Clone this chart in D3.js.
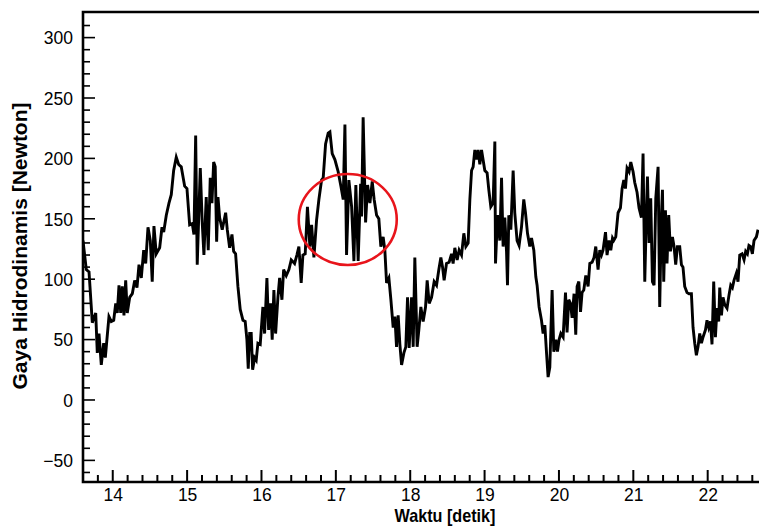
<!DOCTYPE html>
<html lang="id">
<head>
<meta charset="utf-8">
<title>Gaya Hidrodinamis terhadap Waktu</title>
<script src="https://cdn.jsdelivr.net/npm/d3@7"></script>
<style>
body { margin: 0; background: #fff; }
svg { display: block; font-family: "Liberation Sans", Arial, sans-serif; }
</style>
</head>
<body>
<div id="vis"></div>
<script>

/* Data */
/* ======================== */

var waktu = [
  13.600, 13.644, 13.681, 13.725, 13.771, 13.792, 13.815, 13.846, 13.878, 13.900,
  13.949, 13.980, 14.013, 14.040, 14.061, 14.084, 14.107, 14.128, 14.151, 14.174,
  14.195, 14.228, 14.263, 14.295, 14.326, 14.353, 14.384, 14.416, 14.443, 14.474,
  14.505, 14.531, 14.554, 14.585, 14.631, 14.662, 14.685, 14.720, 14.756, 14.787,
  14.819, 14.854, 14.886, 14.921, 14.967, 14.998, 15.034, 15.069, 15.092, 15.115,
  15.136, 15.177, 15.204, 15.226, 15.257, 15.284, 15.311, 15.334, 15.357, 15.378,
  15.397, 15.415, 15.437, 15.472, 15.518, 15.540, 15.572, 15.603, 15.626, 15.652,
  15.683, 15.714, 15.751, 15.781, 15.804, 15.822, 15.841, 15.862, 15.881, 15.908,
  15.929, 15.952, 15.983, 16.019, 16.042, 16.073, 16.096, 16.123, 16.144, 16.167,
  16.190, 16.221, 16.244, 16.275, 16.298, 16.333, 16.369, 16.400, 16.445, 16.476,
  16.503, 16.534, 16.557, 16.588, 16.618, 16.651, 16.674, 16.705, 16.741, 16.772,
  16.808, 16.830, 16.862, 16.897, 16.920, 16.951, 16.987, 17.031, 17.068, 17.099,
  17.122, 17.144, 17.175, 17.212, 17.243, 17.269, 17.300, 17.333, 17.346, 17.367,
  17.400, 17.427, 17.458, 17.489, 17.515, 17.548, 17.578, 17.605, 17.636, 17.659,
  17.682, 17.713, 17.740, 17.771, 17.794, 17.816, 17.838, 17.861, 17.884, 17.915,
  17.941, 17.964, 17.986, 18.018, 18.040, 18.062, 18.093, 18.116, 18.143, 18.174,
  18.206, 18.228, 18.255, 18.287, 18.322, 18.354, 18.385, 18.412, 18.435, 18.456,
  18.488, 18.523, 18.556, 18.577, 18.600, 18.631, 18.658, 18.690, 18.721, 18.748,
  18.779, 18.802, 18.825, 18.846, 18.869, 18.892, 18.913, 18.936, 18.959, 19.003,
  19.034, 19.057, 19.084, 19.115, 19.138, 19.147, 19.174, 19.205, 19.228, 19.249,
  19.272, 19.295, 19.308, 19.326, 19.353, 19.384, 19.406, 19.437, 19.464, 19.496,
  19.527, 19.550, 19.577, 19.608, 19.631, 19.662, 19.689, 19.706, 19.733, 19.765,
  19.787, 19.810, 19.833, 19.854, 19.877, 19.908, 19.931, 19.958, 19.980, 20.002,
  20.025, 20.056, 20.088, 20.109, 20.132, 20.155, 20.177, 20.203, 20.226, 20.244,
  20.267, 20.290, 20.311, 20.334, 20.361, 20.392, 20.415, 20.446, 20.472, 20.495,
  20.526, 20.549, 20.572, 20.593, 20.626, 20.647, 20.674, 20.697, 20.720, 20.737,
  20.764, 20.795, 20.827, 20.849, 20.872, 20.894, 20.916, 20.943, 20.966, 20.997,
  21.019, 21.050, 21.077, 21.109, 21.131, 21.154, 21.177, 21.190, 21.212, 21.234,
  21.257, 21.279, 21.302, 21.333, 21.355, 21.378, 21.392, 21.409, 21.432, 21.453,
  21.476, 21.499, 21.526, 21.548, 21.570, 21.593, 21.624, 21.647, 21.668, 21.691,
  21.722, 21.749, 21.781, 21.803, 21.826, 21.848, 21.870, 21.893, 21.916, 21.937,
  21.970, 21.991, 22.014, 22.037, 22.058, 22.081, 22.104, 22.125, 22.148, 22.162,
  22.185, 22.206, 22.229, 22.260, 22.287, 22.310, 22.332, 22.354, 22.386, 22.408,
  22.431, 22.462, 22.489, 22.511, 22.534, 22.555, 22.578, 22.601, 22.623, 22.655,
  22.677
];

var gaya = [
  132, 108, 106, 64, 72, 39, 55, 29, 47, 35,
  69, 65, 66, 80, 72, 95, 72, 94, 70, 99,
  72, 85, 88, 99, 93, 112, 101, 124, 113, 143,
  132, 98, 144, 121, 126, 143, 139, 153, 163, 170,
  190, 201, 195, 193, 177, 175, 145, 146, 137, 219,
  112, 192, 146, 120, 168, 124, 184, 163, 197, 193,
  131, 168, 151, 141, 155, 141, 126, 137, 123, 121,
  94, 75, 66, 65, 50, 26, 55, 55, 25, 35,
  33, 47, 46, 77, 55, 101, 58, 80, 50, 91,
  55, 85, 101, 83, 108, 103, 108, 116, 113, 120,
  127, 97, 120, 121, 160, 127, 145, 118, 149, 166,
  182, 184, 212, 221, 222, 204, 199, 189, 177, 166,
  228, 120, 182, 160, 115, 178, 115, 179, 152, 234,
  147, 178, 163, 181, 166, 153, 150, 127, 135, 124,
  97, 101, 83, 60, 69, 44, 70, 46, 29, 39,
  44, 85, 43, 85, 44, 118, 44, 58, 77, 65,
  77, 99, 80, 85, 98, 95, 108, 118, 110, 99,
  113, 114, 121, 113, 126, 116, 124, 120, 138, 127,
  130, 166, 190, 193, 207, 199, 207, 195, 207, 190,
  188, 174, 160, 163, 214, 113, 153, 132, 184, 127,
  151, 123, 95, 153, 141, 190, 155, 132, 128, 143,
  166, 155, 138, 127, 134, 124, 102, 95, 77, 66,
  55, 62, 39, 19, 27, 91, 40, 50, 40, 50,
  55, 52, 89, 56, 83, 80, 68, 88, 54, 94,
  98, 73, 89, 91, 103, 94, 113, 114, 118, 127,
  108, 124, 120, 124, 139, 120, 132, 124, 134, 132,
  135, 155, 159, 175, 182, 175, 192, 189, 197, 189,
  180, 172, 159, 151, 204, 98, 157, 185, 130, 167,
  98, 95, 167, 193, 77, 153, 174, 98, 157, 113,
  153, 123, 135, 127, 112, 127, 127, 112, 110, 94,
  89, 88, 88, 60, 47, 37, 44, 55, 47, 52,
  58, 66, 60, 65, 46, 98, 52, 76, 65, 93,
  70, 85, 79, 76, 87, 95, 93, 99, 105, 98,
  120, 121, 116, 123, 121, 128, 127, 121, 132, 135,
  141
];

var xMajor = [14, 15, 16, 17, 18, 19, 20, 21, 22];
var yMajor = [-50, 0, 50, 100, 150, 200, 250, 300];
var xDomain = [13.6, 22.69];
var yDomain = [-67.9, 321.2];

// marked region (red ellipse): centre in data units
var sorotan = { t: 17.16, f: 149.4 };

var data = waktu.map(function(t, i) { return { t: t, f: gaya[i] }; });


/* SVG */
/* === */

var W = 759, H = 527;
var plot = { left: 83, right: 759, top: 12, bottom: 482 };

var svg = d3.select('#vis')
  .append('svg')
    .attr('width', W)
    .attr('height', H);

var x = d3.scaleLinear().domain(xDomain).range([plot.left, plot.right]);
var y = d3.scaleLinear().domain(yDomain).range([plot.bottom, plot.top]);

// minor ticks
var xMinor = d3.range(13.8, 22.65, 0.2).filter(function(v) {
  return Math.abs(v - Math.round(v)) > 0.01;
});
var yMinor = d3.range(-60, 311, 10).filter(function(v) { return v % 50 !== 0; });


/* Data line */
/* ========= */

svg.append('clipPath').attr('id', 'clip')
  .append('rect')
    .attr('x', plot.left).attr('y', plot.top)
    .attr('width', plot.right - plot.left).attr('height', plot.bottom - plot.top);

var line = d3.line()
  .x(function(d) { return x(d.t); })
  .y(function(d) { return y(d.f); });

svg.append('path')
  .datum(data)
  .attr('clip-path', 'url(#clip)')
  .attr('d', line)
  .attr('fill', 'none')
  .attr('stroke', '#000')
  .attr('stroke-width', 2.9);

svg.append('ellipse')
  .attr('cx', x(sorotan.t))
  .attr('cy', y(sorotan.f))
  .attr('rx', 49)
  .attr('ry', 45.5)
  .attr('fill', 'none')
  .attr('stroke', '#e8141b')
  .attr('stroke-width', 2.6);


/* Axes */
/* ==== */

var xAxis = d3.axisBottom(x).tickValues(xMajor).tickSize(0).tickPadding(0)
  .tickFormat(d3.format('d'));
var yAxis = d3.axisLeft(y).tickValues(yMajor).tickSize(0).tickPadding(0)
  .tickFormat(d3.format('d'));

var gx = svg.append('g').attr('transform', 'translate(0,' + plot.bottom + ')').call(xAxis);
var gy = svg.append('g').attr('transform', 'translate(' + plot.left + ',0)').call(yAxis);

[gx, gy].forEach(function(g) {
  g.select('.domain').remove();
  g.selectAll('text')
    .attr('fill', '#000')
    .style('font-family', '"Liberation Sans", Arial, sans-serif')
    .style('font-size', '17.5px');
});
gx.selectAll('text').attr('dy', null).attr('y', 19);
gy.selectAll('text').attr('x', -10).attr('dy', '0.36em');

// inward tick marks
function ticks(vals, len, isX) {
  svg.append('g').selectAll('line')
    .data(vals)
    .join('line')
      .attr('x1', function(d) { return isX ? x(d) : plot.left; })
      .attr('x2', function(d) { return isX ? x(d) : plot.left + len; })
      .attr('y1', function(d) { return isX ? plot.bottom : y(d); })
      .attr('y2', function(d) { return isX ? plot.bottom - len : y(d); })
      .attr('stroke', '#000')
      .attr('stroke-width', isX ? 2 : 1.6);
}
ticks(xMajor, 12, true);
ticks(xMinor, 7, true);
ticks(yMajor, 12, false);
ticks(yMinor, 7, false);

// frame
svg.append('path')
  .attr('d', 'M' + plot.right + ',' + plot.top + 'H' + plot.left + 'V' + plot.bottom + 'H' + plot.right)
  .attr('fill', 'none')
  .attr('stroke', '#000')
  .attr('stroke-width', 2.6);

// axis titles
svg.append('text')
  .attr('transform', 'translate(445,522) scale(0.9,1)')
  .attr('text-anchor', 'middle')
  .style('font-weight', 'bold')
  .style('font-size', '18px')
  .text('Waktu [detik]');

svg.append('text')
  .attr('transform', 'translate(27,246) rotate(-90)')
  .attr('text-anchor', 'middle')
  .style('font-weight', 'bold')
  .style('font-size', '21px')
  .text('Gaya Hidrodinamis [Newton]');

</script>
</body>
</html>
